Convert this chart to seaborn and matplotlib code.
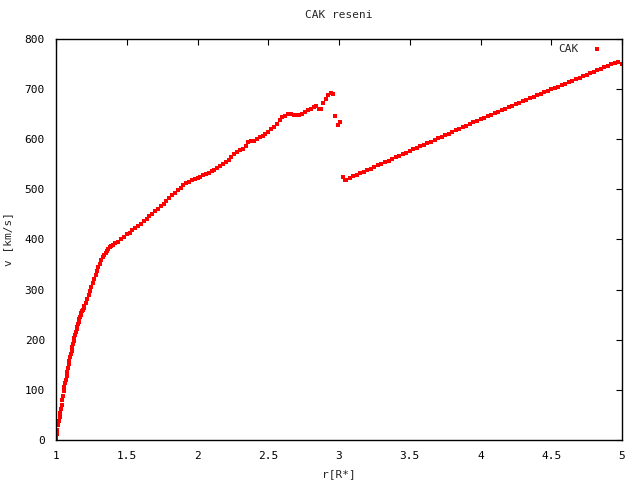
import numpy as np
import pandas as pd
import matplotlib
matplotlib.use('Agg')
import matplotlib.pyplot as plt
import seaborn as sns

# values
r = [1.000, 1.005, 1.010, 1.015, 1.020, 1.025, 1.030, 1.035, 1.040, 1.045,
     1.050, 1.055, 1.060, 1.065, 1.070, 1.075, 1.080, 1.085, 1.090, 1.095,
     1.100, 1.105, 1.110, 1.115, 1.120, 1.125, 1.130, 1.135, 1.140, 1.145,
     1.150, 1.155, 1.160, 1.165, 1.170, 1.175, 1.180, 1.185, 1.190, 1.195,
     1.200, 1.21, 1.22, 1.23, 1.24, 1.25, 1.26, 1.27, 1.28, 1.29,
     1.30, 1.31, 1.32, 1.33, 1.34, 1.35, 1.36, 1.37, 1.38, 1.39,
     1.40, 1.42, 1.44, 1.46, 1.48, 1.50, 1.52, 1.54, 1.56, 1.58,
     1.60, 1.62, 1.64, 1.66, 1.68, 1.70, 1.72, 1.74, 1.76, 1.78,
     1.80, 1.82, 1.84, 1.86, 1.88, 1.90, 1.92, 1.94, 1.96, 1.98,
     2.00, 2.02, 2.04, 2.06, 2.08, 2.10, 2.12, 2.14, 2.16, 2.18,
     2.20, 2.22, 2.24, 2.26, 2.28, 2.30, 2.32, 2.34, 2.36, 2.38,
     2.40, 2.42, 2.44, 2.46, 2.48, 2.50, 2.52, 2.54, 2.56, 2.58,
     2.60, 2.62, 2.64, 2.66, 2.68, 2.70, 2.72, 2.74, 2.76, 2.78,
     2.80, 2.82, 2.84, 2.86, 2.875, 2.89, 2.91, 2.925, 2.94, 2.955,
     2.97, 2.99, 3.005, 3.025, 3.04,
     3.050, 3.075, 3.100, 3.125, 3.150, 3.175, 3.200, 3.225, 3.250, 3.275,
     3.300, 3.325, 3.350, 3.375, 3.400, 3.425, 3.450, 3.475, 3.500, 3.525,
     3.550, 3.575, 3.600, 3.625, 3.650, 3.675, 3.700, 3.725, 3.750, 3.775,
     3.800, 3.825, 3.850, 3.875, 3.900, 3.925, 3.950, 3.975, 4.000, 4.025,
     4.050, 4.075, 4.100, 4.125, 4.150, 4.175, 4.200, 4.225, 4.250, 4.275,
     4.300, 4.325, 4.350, 4.375, 4.400, 4.425, 4.450, 4.475, 4.500, 4.525,
     4.550, 4.575, 4.600, 4.625, 4.650, 4.675, 4.700, 4.725, 4.750, 4.775,
     4.800, 4.825, 4.850, 4.875, 4.900, 4.925, 4.950, 4.975, 5.000]

v = [3, 12, 20, 29, 37, 46, 54, 62, 70, 79,
     88, 97, 105, 113, 120, 128, 136, 144, 151, 158,
     165, 172, 178, 185, 191, 198, 204, 210, 215, 221,
     226, 231, 236, 241, 245, 249, 253, 257, 260, 264,
     267, 274, 282, 290, 298, 306, 314, 322, 330, 337,
     345, 352, 359, 365, 370, 374, 378, 382, 385, 387,
     390, 393, 396, 400, 405, 410, 413, 418, 422, 426,
     431, 436, 441, 446, 451, 456, 461, 466, 471, 477,
     482, 488, 493, 498, 503, 508, 512, 515, 518, 520,
     523, 525, 528, 530, 533, 536, 539, 543, 546, 550,
     554, 559, 565, 570, 575, 578, 580, 586, 594, 596,
     596, 601, 604, 607, 610, 615, 620, 625, 630, 638,
     645, 647, 650, 650, 648, 648, 649, 651, 654, 658,
     661, 664, 666, 661, 661, 673, 680, 688, 693, 690,
     646, 628, 634, 524, 518,
     519, 522, 526, 529, 532, 535, 538, 541, 545, 548,
     551, 554, 557, 561, 564, 567, 570, 573, 576, 580,
     583, 586, 589, 592, 595, 599, 602, 605, 608, 611,
     615, 618, 621, 624, 627, 631, 634, 637, 640, 643,
     646, 649, 652, 655, 658, 661, 664, 667, 670, 673,
     676, 679, 682, 685, 688, 691, 694, 697, 700, 702,
     705, 708, 711, 714, 717, 720, 723, 726, 729, 732,
     735, 738, 741, 744, 747, 750, 753, 754, 751]

x_ticks = [1, 1.5, 2, 2.5, 3, 3.5, 4, 4.5, 5]
x_tick_labels = ['1', '1.5', '2', '2.5', '3', '3.5', '4', '4.5', '5']
y_ticks = [0, 100, 200, 300, 400, 500, 600, 700, 800]

df = pd.DataFrame({'r': r, 'v': v})

sns.set_style('white')
plt.rcParams['font.family'] = ['DejaVu Sans Mono']
plt.rcParams['font.size'] = 8
plt.rcParams['xtick.direction'] = 'in'
plt.rcParams['ytick.direction'] = 'in'

fig = plt.figure(figsize=(6.4, 4.8), dpi=100)
ax = fig.add_axes([56 / 640, 40 / 480, 566 / 640, 401 / 480])

sns.scatterplot(data=df, x='r', y='v', ax=ax, color='#ff0000', marker='s',
                s=10, linewidth=0, label='CAK')

ax.set_xlim(1, 5)
ax.set_ylim(0, 800)
ax.set_xticks(x_ticks)
ax.set_xticklabels(x_tick_labels)
ax.set_yticks(y_ticks)
ax.tick_params(top=True, right=True, length=4, width=0.8, colors='black',
               labelsize=8, pad=8)
for sp in ax.spines.values():
    sp.set_color('black')
    sp.set_linewidth(1)

ax.set_title('CAK reseni', fontsize=8, pad=15)
ax.set_xlabel('r[R*]', fontsize=8, labelpad=6)
ax.set_ylabel('v [km/s]', fontsize=8, labelpad=8)

leg = ax.legend(loc='upper right', frameon=False, markerfirst=False,
                fontsize=8, markerscale=0.75, handletextpad=0.7,
                borderaxespad=0.3,
                bbox_to_anchor=(1 - 6 / 566, 1 + 3 / 401))

fig.savefig('out.png', dpi=100)
